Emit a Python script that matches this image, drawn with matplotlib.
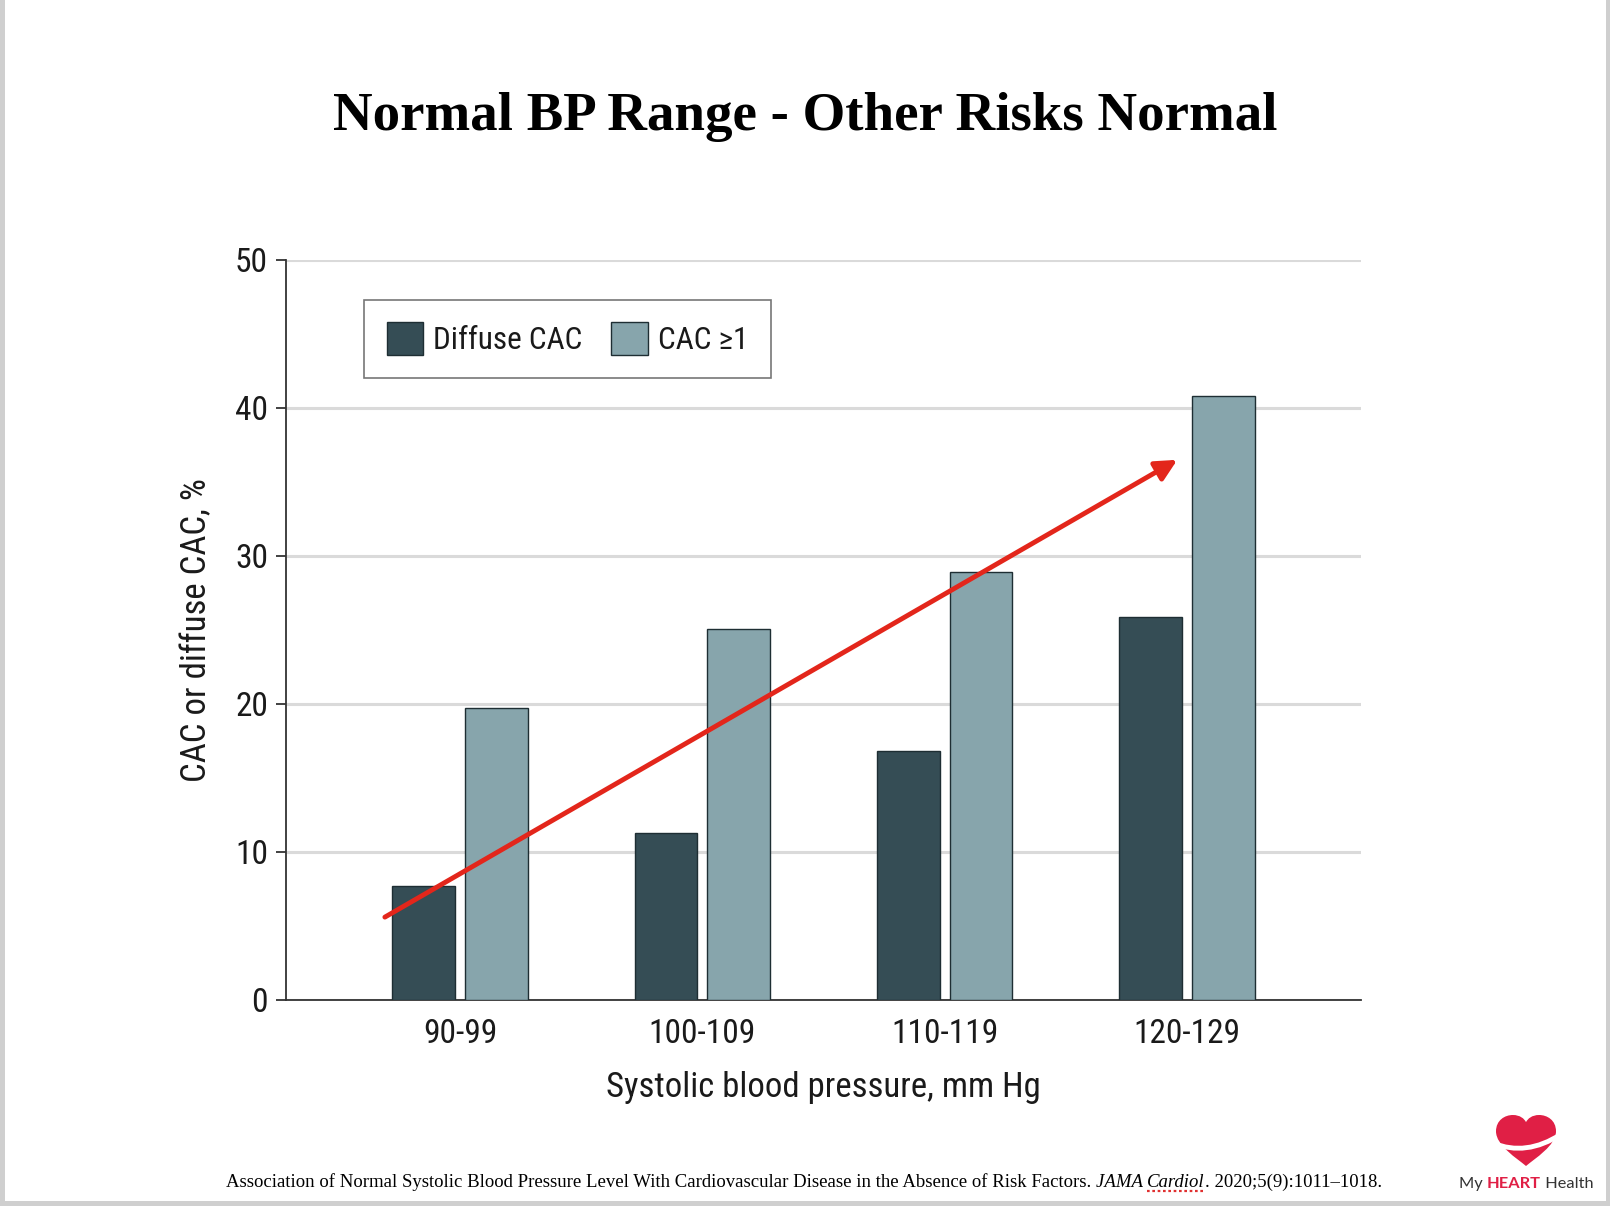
import numpy as np
import matplotlib
matplotlib.use('Agg')
import matplotlib.pyplot as plt
from matplotlib.patches import Rectangle, PathPatch
from matplotlib.path import Path

# data
groups = ['90-99', '100-109', '110-119', '120-129']
diffuse_cac = [7.7, 11.3, 16.8, 25.9]
cac_ge1 = [19.7, 25.1, 28.9, 40.8]
series_names = ['Diffuse CAC', 'CAC \u22651']
yticks = [0, 10, 20, 30, 40, 50]

# trend arrow (data coords)
arrow_start = (-0.31, 5.6)
arrow_end = (2.96, 36.5)

title = 'Normal BP Range - Other Risks Normal'
xlabel = 'Systolic blood pressure, mm Hg'
ylabel = 'CAC or diffuse CAC, %'
cite_plain = ('Association of Normal Systolic Blood Pressure Level With '
              'Cardiovascular Disease in the Absence of Risk Factors. ')
cite_tail = '. 2020;5(9):1011\u20131018.'

sans = ['Liberation Sans Narrow', 'DejaVu Sans Condensed', 'Noto Sans Condensed',
        'Roboto Condensed', 'Open Sans Condensed', 'Lato']
dark = '#354d55'
light = '#87a5ac'
edge = '#1e2e33'
txt = '#1a1a1a'

W, H = 1610, 1206
fig = plt.figure(figsize=(W/100, H/100), dpi=100)
fig.patch.set_facecolor('white')

ax = fig.add_axes([286/W, 1-1000/H, (1361-286)/W, 740/H])

x = np.arange(len(groups))
bw = 0.258
off = 0.15
ax.bar(x-off, diffuse_cac, bw, color=dark, edgecolor=edge, lw=1,
       label=series_names[0], zorder=3)
ax.bar(x+off, cac_ge1, bw, color=light, edgecolor=edge, lw=1,
       label=series_names[1], zorder=3)

ax.set_xlim(-0.718, 3.718)
ax.set_ylim(0, 50)
ax.set_yticks(yticks)
ax.set_xticks(x)
ax.set_xticklabels(groups)
ax.yaxis.grid(True, color='#dadada', lw=2.2, zorder=0)
ax.set_axisbelow(True)

for s in ['top', 'right']:
    ax.spines[s].set_visible(False)
for s in ['left', 'bottom']:
    ax.spines[s].set_color('#333333')
    ax.spines[s].set_linewidth(1.3)

ax.tick_params(axis='y', length=7, width=1.3, color='#333333', pad=6,
               labelsize=24, labelcolor=txt)
ax.tick_params(axis='x', length=0, pad=13, labelsize=24, labelcolor=txt)
for lab in ax.get_xticklabels() + ax.get_yticklabels():
    lab.set_family(sans)
    lab.set_stretch('condensed')

ax.set_xlabel(xlabel, fontsize=25, family=sans, stretch='condensed',
              color=txt, labelpad=15)
ax.set_ylabel(ylabel, fontsize=25, family=sans, stretch='condensed',
              color=txt, labelpad=16)

leg = ax.legend(loc='upper left', bbox_to_anchor=(0.0726, 0.946),
                borderaxespad=0, ncol=2, frameon=True, fancybox=False,
                prop={'family': sans, 'size': 22.5, 'stretch': 'condensed'},
                handlelength=1.18, handleheight=1.22, handletextpad=0.32,
                columnspacing=0.9, borderpad=0.72)
leg.get_frame().set_edgecolor('#555555')
leg.get_frame().set_linewidth(1.2)
for t in leg.get_texts():
    t.set_color(txt)

ax.annotate('', xy=arrow_end, xytext=arrow_start,
            arrowprops=dict(arrowstyle='-|>', color='#e3261b', lw=3.5,
                            mutation_scale=32, shrinkA=0, shrinkB=0),
            zorder=5)

serif = ['Liberation Serif', 'DejaVu Serif']
fig.text(0.5, 1-117/H, title, ha='center', va='center', fontsize=39.5,
         fontweight='bold', family=serif, color='black')

# citation line, pieced together
r = fig.canvas.get_renderer()
fs = 13.5
yb = 1 - 1187/H
px = 226
t1 = fig.text(px/W, yb, cite_plain, fontsize=fs, family=serif,
              va='baseline', color='black')
px += t1.get_window_extent(r).width
t2 = fig.text(px/W, yb, 'JAMA ', fontsize=fs, family=serif,
              style='italic', va='baseline', color='black')
px += t2.get_window_extent(r).width
t3 = fig.text(px/W, yb, 'Cardiol', fontsize=fs, family=serif,
              style='italic', va='baseline', color='black')
w3 = t3.get_window_extent(r).width
fig.add_artist(plt.Line2D([px/W, (px+w3)/W], [yb-4/H, yb-4/H],
                          transform=fig.transFigure, color='#e03030',
                          lw=1.6, ls=(0, (1.2, 1.2))))
px += w3
fig.text(px/W, yb, cite_tail, fontsize=fs, family=serif,
         va='baseline', color='black')


# logo: heart + swoosh + wordmark
def to_fig(u, v, x0=1496, y0=1166, w=60, h=51):
    return ((x0 + w*u)/W, 1 - (y0 - h*v)/H)


heart_uv = [(0.5, 0.0),
            (0.35, 0.15), (0.0, 0.4), (0.0, 0.68),
            (0.0, 0.9), (0.15, 1.0), (0.28, 1.0),
            (0.4, 1.0), (0.47, 0.93), (0.5, 0.86),
            (0.53, 0.93), (0.6, 1.0), (0.72, 1.0),
            (0.85, 1.0), (1.0, 0.9), (1.0, 0.68),
            (1.0, 0.4), (0.65, 0.15), (0.5, 0.0),
            (0.5, 0.0)]
codes = [Path.MOVETO] + [Path.CURVE4]*18 + [Path.CLOSEPOLY]
heart = PathPatch(Path([to_fig(*p) for p in heart_uv], codes),
                  transform=fig.transFigure, facecolor='#e01f45',
                  edgecolor='none', zorder=4)
fig.add_artist(heart)
sw_uv = [(-0.05, 0.45), (0.5, 0.18), (1.08, 0.62)]
sw = PathPatch(Path([to_fig(*p) for p in sw_uv],
                    [Path.MOVETO, Path.CURVE3, Path.CURVE3]),
               transform=fig.transFigure, fill=False, edgecolor='white',
               lw=3.5, capstyle='round', zorder=5)
fig.add_artist(sw)

lx = 1459
ly = 1 - 1188/H
logo_font = ['Lato', 'DejaVu Sans']
lfs = 11.8
l1 = fig.text(lx/W, ly, 'My ', fontsize=lfs, family=logo_font,
              color='#333333', va='baseline')
lx += l1.get_window_extent(r).width
l2 = fig.text(lx/W, ly, 'HEART', fontsize=lfs, family=logo_font,
              fontweight='bold', color='#e01f45', va='baseline')
lx += l2.get_window_extent(r).width
fig.text(lx/W, ly, ' Health', fontsize=lfs, family=logo_font,
         color='#333333', va='baseline')

# slide border
for rect in [(0, 0, 5/W, 1), (0, 0, 1, 5/H), (1-4/W, 0, 4/W, 1)]:
    fig.add_artist(Rectangle(rect[:2], rect[2], rect[3],
                             transform=fig.transFigure, color='#cfcfcf',
                             lw=0, zorder=10))

fig.savefig('out.png', dpi=100, facecolor='white')
